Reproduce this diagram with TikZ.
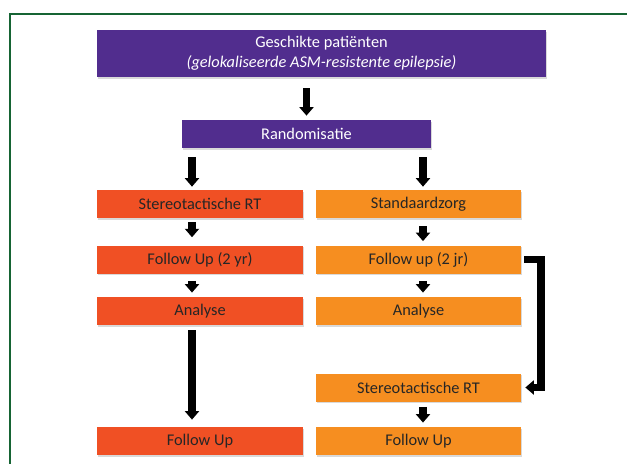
\documentclass[tikz,border=0pt]{standalone}
\usepackage{fontspec}
\setmainfont{Carlito}
\usetikzlibrary{arrows.meta,shadows}

\definecolor{purp}{RGB}{81,45,142}
\definecolor{srtred}{RGB}{240,80,36}
\definecolor{stdorange}{RGB}{246,142,32}
\definecolor{framegreen}{RGB}{22,100,52}

\begin{document}
\begin{tikzpicture}[x=.02cm,y=-.02cm,
  box/.style={rectangle,inner sep=0pt,minimum height=.56cm,font=\fontsize{9.3}{11.3}\selectfont,
    drop shadow={shadow xshift=.5pt,shadow yshift=-.9pt,opacity=.3}},
  purpbox/.style={box,fill=purp,text=white},
  leftbox/.style={box,fill=srtred,text=black!85,minimum width=4.12cm},
  rightbox/.style={box,fill=stdorange,text=black!85,minimum width=4.1cm},
  blk/.style={line width=4pt,-{Triangle[width=.28cm,length=.17cm]}}]
  \useasboundingbox (0,0) rectangle (627,464);
  \draw[framegreen,line width=1.7pt] (10,475) -- (10,14) -- (640,14);

  \node[purpbox,minimum width=8.98cm,minimum height=.94cm,align=center] (patients) at (321.5,53.5)
    {Geschikte patiënten\\\textit{(gelokaliseerde ASM-resistente epilepsie)}};
  \node[purpbox,minimum width=4.98cm] (rando) at (306.5,134) {Randomisatie};

  \node[leftbox] (srt) at (200,204) {Stereotactische RT};
  \node[leftbox] (fu) at (200,259.5) {Follow Up (2 yr)};
  \node[leftbox] (ana) at (200,311) {Analyse};
  \node[leftbox] (fuend) at (200,441) {Follow Up};

  \node[rightbox] (std) at (418.5,204) {Standaardzorg};
  \node[rightbox] (stdfu) at (418.5,259.5) {Follow up (2 jr)};
  \node[rightbox] (stdana) at (418.5,311) {Analyse};
  \node[rightbox] (stdsrt) at (418.5,387.5) {Stereotactische RT};
  \node[rightbox] (stdfuend) at (418.5,441) {Follow Up};

  \coordinate (lx) at (192,0);
  \coordinate (rx) at (423,0);
  \coordinate (brk) at (541,0);

  \draw[blk,shorten <=6.2pt,shorten >=2.3pt] (rando.north |- patients.south) -- (rando.north);
  \draw[blk,shorten <=5.1pt,shorten >=1.7pt] (rando.south -| lx) -- (srt.north -| lx);
  \draw[blk,shorten <=5.1pt,shorten >=1.7pt] (rando.south -| rx) -- (std.north -| rx);

  \draw[blk,shorten <=2.3pt,shorten >=4.5pt] (srt.south -| lx) -- (fu.north -| lx);
  \draw[blk,shorten <=4pt,shorten >=2.3pt] (fu.south -| lx) -- (ana.north -| lx);
  \draw[blk,shorten <=2.8pt,shorten >=4pt] (ana.south -| lx) -- (fuend.north -| lx);

  \draw[blk,shorten <=4.5pt,shorten >=2.3pt] (std.south -| rx) -- (stdfu.north -| rx);
  \draw[blk,shorten <=4pt,shorten >=2.3pt] (stdfu.south -| rx) -- (stdana.north -| rx);
  \draw[blk,shorten <=2.8pt,shorten >=2.3pt] (stdsrt.south -| rx) -- (stdfuend.north -| rx);

  \draw[blk,shorten >=2.3pt] ([xshift=1.7pt]stdfu.east) -- (stdfu.east -| brk) -- (stdsrt.east -| brk) -- (stdsrt.east);
\end{tikzpicture}
\end{document}
